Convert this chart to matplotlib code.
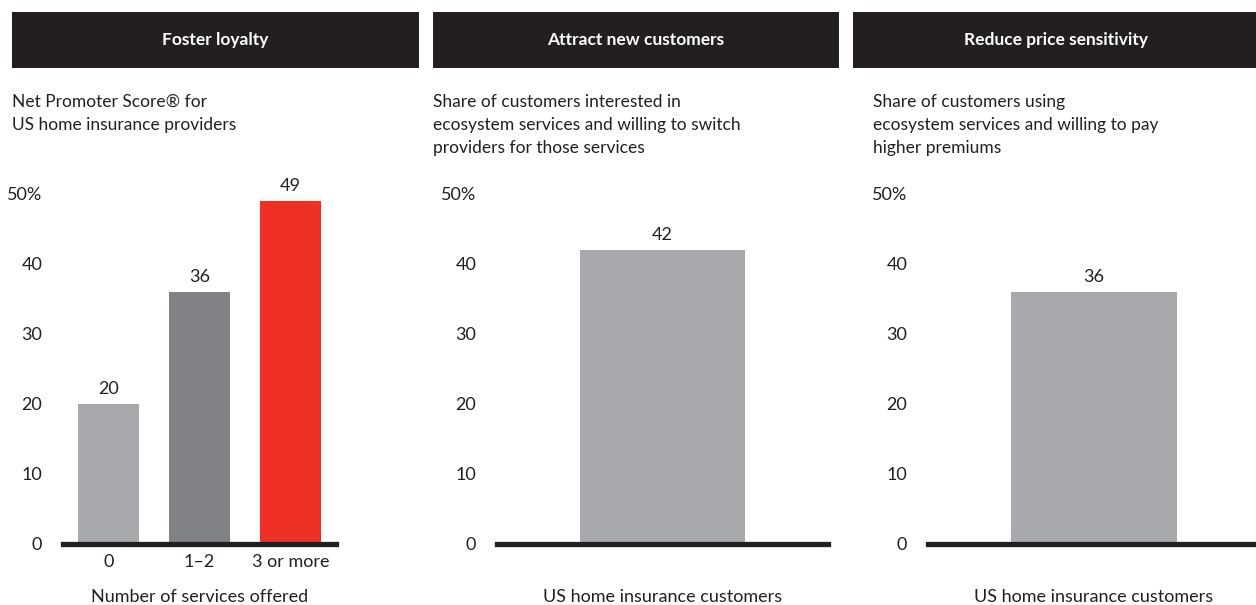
import matplotlib
matplotlib.use("Agg")
import matplotlib.pyplot as plt

# data
foster_cats = ["0", "1\u20132", "3 or more"]
foster_vals = [20, 36, 49]
attract_cats = ["US home insurance customers"]
attract_vals = [42]
reduce_cats = ["US home insurance customers"]
reduce_vals = [36]

headers = ["Foster loyalty", "Attract new customers", "Reduce price sensitivity"]
subtitles = ["Net Promoter Score\u00ae for\nUS home insurance providers",
             "Share of customers interested in\necosystem services and willing to switch\nproviders for those services",
             "Share of customers using\necosystem services and willing to pay\nhigher premiums"]
yticks = [0, 10, 20, 30, 40, 50]
ylabels = ["0", "10", "20", "30", "40", "50%"]

plt.rcParams["font.family"] = ["Lato", "DejaVu Sans"]
W, H = 1256, 605
dark = "#231f20"
fig = plt.figure(figsize=(W / 100, H / 100), dpi=100)

def px(x0, y0, x1, y1):
    # pixel box (top-left origin) -> figure fraction
    return [x0 / W, 1 - y1 / H, (x1 - x0) / W, (y1 - y0) / H]

# header bars
for (x0, x1), txt in zip([(12, 419), (433, 839), (853, 1258)], headers):
    hax = fig.add_axes(px(x0, 12, x1, 68))
    hax.set_facecolor(dark)
    hax.set_xticks([]); hax.set_yticks([])
    for s in hax.spines.values():
        s.set_visible(False)
    hax.text(0.5, 0.5, txt, color="white", fontsize=12.5, fontweight="bold",
             ha="center", va="center", transform=hax.transAxes)

# subtitles
for x0, txt in zip([12, 433, 873], subtitles):
    fig.text(x0 / W, 1 - 94 / H, txt, fontsize=12.5, color=dark, va="top",
             ha="left", linespacing=1.55)

def panel(box, cats, vals, colors, xlim, width, xlabel, tick_labels=True):
    ax = fig.add_axes(px(*box))
    ax.bar(range(len(vals)), vals, width=width, color=colors)
    ax.set_xlim(*xlim)
    ax.set_ylim(0, 50)
    ax.set_yticks(yticks)
    ax.set_yticklabels(ylabels, fontsize=13, color=dark)
    ax.tick_params(axis="y", length=0, pad=15)
    ax.tick_params(axis="x", length=0, pad=7)
    for s in ["top", "right", "left"]:
        ax.spines[s].set_visible(False)
    ax.spines["bottom"].set_linewidth(3.8)
    ax.spines["bottom"].set_color(dark)
    if tick_labels:
        ax.set_xticks(range(len(cats)))
        ax.set_xticklabels(cats, fontsize=13, color=dark)
    else:
        ax.set_xticks([])
    # axis title sits near the bottom edge of the figure
    ax.text(0.5, -(597 - box[3]) / (box[3] - box[1]), xlabel, transform=ax.transAxes,
            ha="center", va="center", fontsize=13, color=dark)
    for i, v in enumerate(vals):
        ax.annotate(str(v), (i, v), xytext=(0, 5), textcoords="offset points",
                    ha="center", va="bottom", fontsize=13, color=dark)
    ax.set_facecolor("none")
    return ax

panel((63, 194, 336, 544), foster_cats, foster_vals,
      ["#a7a9ac", "#808285", "#ee3124"], (-0.5, 2.5), 0.66,
      "Number of services offered")
panel((497, 194, 828, 544), attract_cats, attract_vals, ["#a7a9ac"],
      (-0.5, 0.5), 0.5, attract_cats[0], tick_labels=False)
panel((928, 194, 1260, 544), reduce_cats, reduce_vals, ["#a7a9ac"],
      (-0.5, 0.5), 0.5, reduce_cats[0], tick_labels=False)

fig.savefig("out.png", dpi=100)
